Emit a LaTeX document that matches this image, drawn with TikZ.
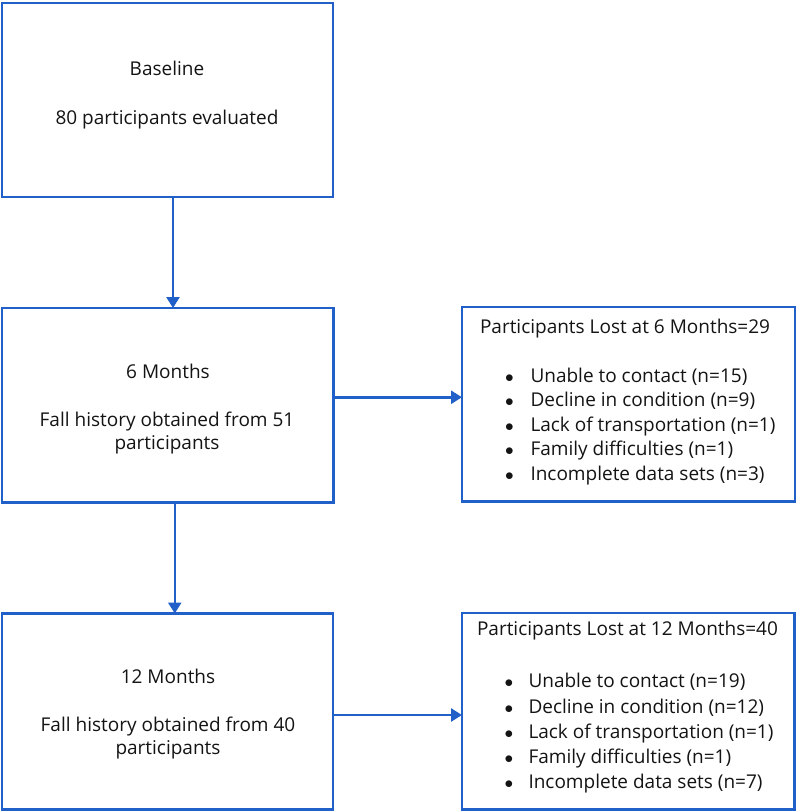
\documentclass[tikz,border=0pt]{standalone}
\usepackage{fontspec}
\setmainfont{Open Sans}
\usetikzlibrary{arrows.meta,calc}
\definecolor{boxblue}{RGB}{32,96,200}
\definecolor{txt}{RGB}{20,20,20}
\tikzset{
  box/.style={draw=boxblue,line width=2.5pt,inner sep=0pt,outer sep=0pt,fill=white},
  lbl/.style={inner sep=0pt,outer sep=0pt,text=txt,font=\fontsize{19}{22}\selectfont},
  arr/.style={draw=boxblue,line width=2.5pt,-{Triangle[length=11pt,width=13pt]}}
}
\begin{document}
\begin{tikzpicture}[x=1pt,y=-1pt]
\useasboundingbox (0,0) rectangle (797,812);
% boxes
\node[box,minimum width=331pt,minimum height=194pt] (base) at (167.5,100) {};
\node[box,minimum width=331.5pt,minimum height=194.5pt] (m6) at (167.75,405.25) {};
\node[box,minimum width=331pt,minimum height=196pt] (m12) at (167.5,711.5) {};
\node[box,minimum width=333pt,minimum height=194.5pt] (r1) at (628.5,404.25) {};
\node[box,minimum width=332.5pt,minimum height=196.5pt] (r2) at (628.25,711.25) {};
% texts in left boxes
\node[lbl,anchor=base] (t1) at (167,75) {Baseline};
\node[lbl,anchor=base] (t2) at (167,124) {80 participants evaluated};
\node[lbl,anchor=base] (t3) at (168,378) {6 Months};
\node[lbl,anchor=base] (t4) at (167,426.5) {Fall history obtained from 51};
\node[lbl,anchor=base] (t5) at (167,449) {participants};
\node[lbl,anchor=base] (t6) at (168,683) {12 Months};
\node[lbl,anchor=base] (t7) at (168,731) {Fall history obtained from 40};
\node[lbl,anchor=base] (t8) at (168,754) {participants};
% right box 1
\node[lbl,anchor=base west] (h1) at (480,333.5) {Participants Lost at 6 Months=29};
\foreach \y/\t [count=\i] in {382/{Unable to contact (n=15)},406.5/{Decline in condition (n=9)},431/{Lack of transportation (n=1)},455.5/{Family difficulties (n=1)},480/{Incomplete data sets (n=3)}}{
  \node[lbl,anchor=base] (ba\i) at (509.5,\y) {$\bullet$};
  \node[lbl,anchor=base west] (ia\i) at (530.5,\y) {\t};
}
% right box 2
\node[lbl,anchor=base west] (h2) at (477,635) {Participants Lost at 12 Months=40};
\foreach \y/\t [count=\i] in {687.5/{Unable to contact (n=19)},713/{Decline in condition (n=12)},738.3/{Lack of transportation (n=1)},763.3/{Family difficulties (n=1)},788.3/{Incomplete data sets (n=7)}}{
  \node[lbl,anchor=base] (bb\i) at (509,\y) {$\bullet$};
  \node[lbl,anchor=base west] (ib\i) at (528.5,\y) {\t};
}
% connectors
\draw[arr] ([xshift=5.5pt]base.south) -- ([xshift=5.5pt]base.south |- m6.north);
\draw[arr] ([xshift=7pt]m6.south) -- ([xshift=7pt]m6.south |- m12.north);
\draw[arr] ([yshift=8pt]m6.east) -- ([yshift=8pt]m6.east -| r1.west);
\draw[arr] ([yshift=-3.5pt]m12.east) -- ([yshift=-3.5pt]m12.east -| r2.west);
\end{tikzpicture}
\end{document}
